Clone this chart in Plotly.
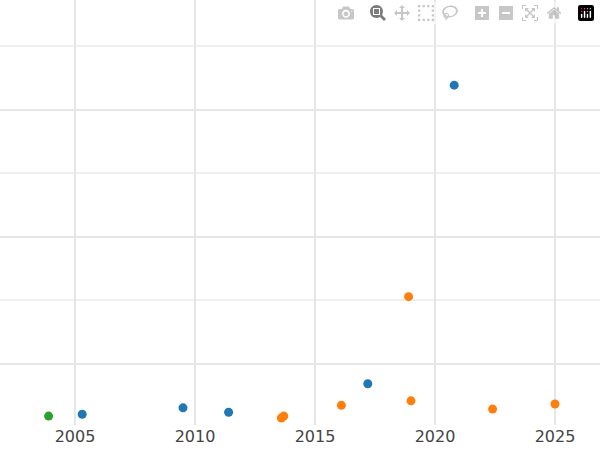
import plotly.graph_objects as go

green_x = [2003.9]
green_y = [0.18]
blue_x = [2005.3, 2009.5, 2011.4, 2017.2, 2020.8]
blue_y = [0.21, 0.31, 0.24, 0.69, 5.39]
orange_x = [2013.6, 2013.7, 2016.1, 2018.9, 2019.0, 2022.4, 2025.0]
orange_y = [0.15, 0.18, 0.35, 2.06, 0.42, 0.29, 0.37]

fig = go.Figure()
for xs, ys, c in [(blue_x, blue_y, "#1f77b4"), (orange_x, orange_y, "#ff7f0e"), (green_x, green_y, "#2ca02c")]:
    fig.add_trace(go.Scatter(x=xs, y=ys, mode="markers", marker=dict(color=c, size=9), showlegend=False))

fig.update_layout(
    width=600, height=450, margin=dict(l=0, r=0, t=0, b=25),
    plot_bgcolor="white", paper_bgcolor="white",
    font=dict(family="DejaVu Sans", size=16, color="#444"),
)
fig.update_xaxes(range=[2001.875, 2026.875], tick0=2005, dtick=5, gridcolor="#e6e6e6", gridwidth=2,
                 showline=False, zeroline=False, ticks="")
fig.update_yaxes(range=[0.04, 6.73], tick0=1, dtick=2, showticklabels=False, gridcolor="#e6e6e6", gridwidth=2,
                 zeroline=False, minor=dict(dtick=1, gridcolor="#f0f0f0", showgrid=True))
fig.write_html("out.html", post_script="document.body.style.margin='0';document.body.style.overflow='hidden';")
